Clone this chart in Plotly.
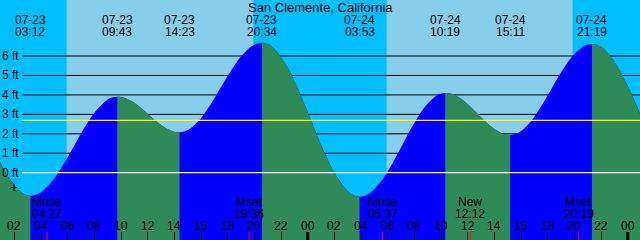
import plotly.graph_objects as go

station = "San Clemente, California"

# Tide curve (hours from 07-23 00:00, feet)
tide_hours = [0.05, 0.838, 1.625, 2.413, 2.806, 3.2,
              3.607, 4.015, 4.829, 5.644, 6.459, 7.273, 8.088, 8.902, 9.310, 9.717,
              10.009, 10.300, 10.884, 11.467, 12.050, 12.633, 13.217, 13.800, 14.091, 14.383,
              14.770, 15.156, 15.929, 16.702, 17.475, 18.248, 19.021, 19.794, 20.181, 20.567,
              21.024, 21.482, 22.396, 23.311, 24.225, 25.140, 26.054, 26.969, 27.426, 27.883,
              28.285, 28.687, 29.492, 30.296, 31.100, 31.904, 32.709, 33.513, 33.915, 34.317,
              34.621, 34.925, 35.534, 36.142, 36.750, 37.358, 37.967, 38.575, 38.879, 39.183,
              39.566, 39.950, 40.717, 41.483, 42.250, 43.017, 43.784, 44.550, 44.934, 45.317,
              45.792, 46.267, 47.217, 48.167, 49.0]
tide_ft = [1.81, 0.666, -0.304, -0.952, -1.123, -1.18,
           -1.131, -0.986, -0.435, 0.391, 1.365, 2.339, 3.165, 3.716, 3.861, 3.91,
           3.892, 3.840, 3.642, 3.345, 2.995, 2.645, 2.348, 2.150, 2.098, 2.08,
           2.124, 2.255, 2.753, 3.500, 4.380, 5.260, 6.007, 6.505, 6.636, 6.68,
           6.604, 6.379, 5.522, 4.238, 2.725, 1.212, -0.072, -0.929, -1.154, -1.23,
           -1.179, -1.027, -0.450, 0.415, 1.435, 2.455, 3.320, 3.897, 4.049, 4.10,
           4.079, 4.018, 3.784, 3.433, 3.020, 2.607, 2.256, 2.022, 1.961, 1.94,
           1.985, 2.118, 2.625, 3.385, 4.280, 5.175, 5.935, 6.442, 6.575, 6.62,
           6.545, 6.323, 5.478, 4.212, 2.91]

extreme_labels = ["07-23 03:12", "07-23 09:43", "07-23 14:23", "07-23 20:34",
                  "07-24 03:53", "07-24 10:19", "07-24 15:11", "07-24 21:19"]
daylight = [("07-23 05:55", "07-23 19:55"), ("07-24 05:55", "07-24 19:52")]
moon_names = ["Mrise", "Mset", "Mrise", "New", "Mset"]
moon_labels = ["07-23 04:27", "07-23 19:36", "07-24 05:37", "07-24 12:12", "07-24 20:19"]
tick_hours = list(range(2, 49, 2))
tick_labels = ["02", "04", "06", "08", "10", "12", "14", "16", "18", "20", "22", "00",
               "02", "04", "06", "08", "10", "12", "14", "16", "18", "20", "22", "00"]
midnights = [24, 48]
ft_levels = [0, 1, 2, 3, 4, 5, 6]
ft_labels = ["0 ft", "1 ft", "2 ft", "3 ft", "4 ft", "5 ft", "6 ft"]
mean_level_ft = 2.69
now_hour = 2.0

X_RANGE = [0.92, 48.92]
Y_RANGE = [-3.46, 8.88]
W, H = 640, 240
FONT = "Liberation Sans, Arial, sans-serif"
RISE, FALL = "#0000FF", "#2E8B57"
NIGHT, DAY = "#00BFFF", "#87CEEB"


def to_hours(s):
    d, t = s.split(" ")
    day = int(d.split("-")[1])
    hh, mm = t.split(":")
    return (day - 23) * 24 + int(hh) + int(mm) / 60.0


def py(p):
    return 1 - p / H


extreme_hours = [to_hours(s) for s in extreme_labels]
ext_idx = [min(range(len(tide_hours)), key=lambda i: abs(tide_hours[i] - h)) for h in extreme_hours]
bounds = [0] + ext_idx + [len(tide_hours) - 1]

fig = go.Figure()
base_y = Y_RANGE[0] - 2
# whole curve filled blue
fig.add_trace(go.Scatter(x=[tide_hours[0], tide_hours[-1]], y=[base_y, base_y], mode="lines",
                         line=dict(width=0), hoverinfo="skip", showlegend=False))
fig.add_trace(go.Scatter(x=tide_hours, y=tide_ft, mode="lines", fill="tonexty", fillcolor=RISE,
                         line=dict(width=0, shape="spline"), hoverinfo="skip", showlegend=False))
# falling segments in green
for a, b in zip(bounds[:-1], bounds[1:]):
    if b <= a or tide_ft[b] >= tide_ft[a]:
        continue
    xs = tide_hours[a:b + 1]
    ys = tide_ft[a:b + 1]
    fig.add_trace(go.Scatter(x=[xs[0], xs[-1]], y=[base_y, base_y], mode="lines",
                             line=dict(width=0), hoverinfo="skip", showlegend=False))
    fig.add_trace(go.Scatter(x=xs, y=ys, mode="lines", fill="tonexty", fillcolor=FALL,
                             line=dict(width=0, shape="spline"), hoverinfo="skip", showlegend=False))

shapes = []
for s, e in daylight:
    shapes.append(dict(type="rect", xref="x", yref="paper", x0=to_hours(s), x1=to_hours(e),
                       y0=0, y1=1, fillcolor=DAY, line=dict(width=0), layer="below"))
for lv in ft_levels:
    if lv == 0:
        continue
    shapes.append(dict(type="line", xref="paper", yref="y", x0=22 / W, x1=1, y0=lv, y1=lv,
                       line=dict(color="black", width=1), layer="below"))
shapes.append(dict(type="line", xref="paper", yref="y", x0=22 / W, x1=1, y0=0, y1=0,
                   line=dict(color="white", width=1.2), layer="above"))
shapes.append(dict(type="line", xref="paper", yref="y", x0=22 / W, x1=1, y0=mean_level_ft,
                   y1=mean_level_ft, line=dict(color="#FFFF00", width=1.2), layer="above"))
for m in midnights:
    shapes.append(dict(type="line", xref="x", yref="paper", x0=m, x1=m, y0=0, y1=8 / H,
                       line=dict(color="black", width=3), layer="above"))
for lab in moon_labels:
    h = to_hours(lab)
    shapes.append(dict(type="line", xref="x", yref="paper", x0=h, x1=h, y0=0, y1=8 / H,
                       line=dict(color="#FF0000", width=1), layer="above"))

ann = []
txt = dict(family=FONT, size=12, color="black")
ann.append(dict(text=station, xref="paper", yref="paper", x=0.5, y=py(7.3), showarrow=False,
                xanchor="center", yanchor="middle", font=dict(family=FONT, size=13, color="black")))
for lab, h in zip(extreme_labels, extreme_hours):
    d, t = lab.split(" ")
    ann.append(dict(text=d, xref="x", yref="paper", x=h, y=py(19.5), showarrow=False,
                    xanchor="center", yanchor="middle", font=txt))
    ann.append(dict(text=t, xref="x", yref="paper", x=h, y=py(31.7), showarrow=False,
                    xanchor="center", yanchor="middle", font=txt))
for name, lab in zip(moon_names, moon_labels):
    h = to_hours(lab)
    ann.append(dict(text=name, xref="x", yref="paper", x=h, y=py(202), showarrow=False,
                    xanchor="center", yanchor="middle", font=txt))
    ann.append(dict(text=lab.split(" ")[1], xref="x", yref="paper", x=h, y=py(213.8),
                    showarrow=False, xanchor="center", yanchor="middle", font=txt))
for h, lab in zip(tick_hours, tick_labels):
    ann.append(dict(text=lab, xref="x", yref="paper", x=h, y=py(225.5), showarrow=False,
                    xanchor="center", yanchor="middle", font=txt))
for lv, lab in zip(ft_levels, ft_labels):
    ann.append(dict(text=lab, xref="paper", yref="y", x=20.5 / W, y=lv, showarrow=False,
                    xanchor="right", yanchor="middle", font=txt))
ann.append(dict(text="+", xref="x", yref="paper", x=now_hour, y=py(187), showarrow=False,
                xanchor="center", yanchor="middle", font=dict(family=FONT, size=14, color="black")))

fig.update_layout(
    width=W, height=H, margin=dict(l=0, r=0, t=0, b=0),
    paper_bgcolor=NIGHT, plot_bgcolor=NIGHT,
    shapes=shapes, annotations=ann, showlegend=False,
    xaxis=dict(range=X_RANGE, showgrid=False, zeroline=False, showline=False,
               tickmode="array", tickvals=tick_hours, ticks="inside", ticklen=8,
               tickwidth=1, tickcolor="black", showticklabels=False, fixedrange=True),
    yaxis=dict(range=Y_RANGE, showgrid=False, zeroline=False, showline=False,
               showticklabels=False, ticks="", fixedrange=True),
)
fig.write_html("out.html", config={"displayModeBar": False})
